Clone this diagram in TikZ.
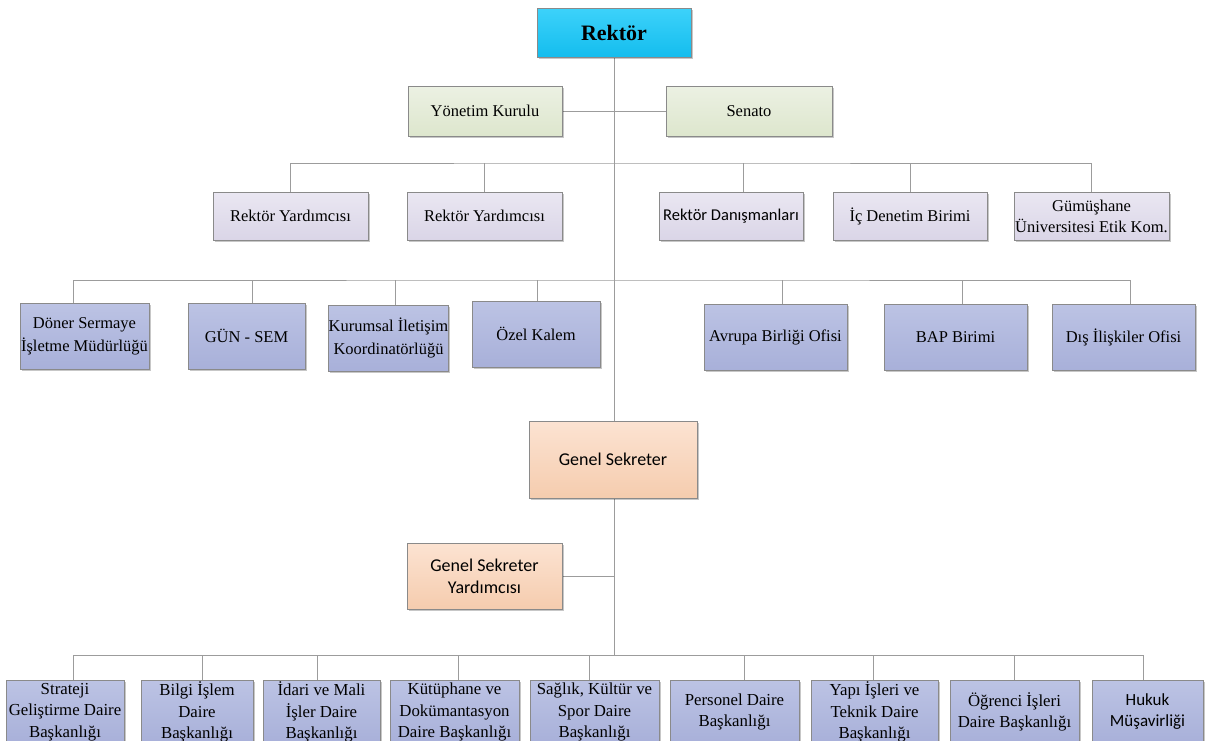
\documentclass[tikz,border=0pt]{standalone}
\usepackage{fontspec}
\setmainfont{Liberation Serif}
\newfontfamily\calfont{Carlito}
\usetikzlibrary{shadows,calc}
\definecolor{bord}{HTML}{8A8A8A}
\definecolor{lnc}{HTML}{9C9C9C}
\definecolor{cyT}{HTML}{3DD2FA}
\definecolor{cyB}{HTML}{14BDEE}
\definecolor{grT}{HTML}{ECF1E3}
\definecolor{grB}{HTML}{DDE6CD}
\definecolor{lvT}{HTML}{EAE7F2}
\definecolor{lvB}{HTML}{DAD5E7}
\definecolor{blT}{HTML}{BCC3E4}
\definecolor{blB}{HTML}{A8B0D9}
\definecolor{pcT}{HTML}{FCE3D2}
\definecolor{pcB}{HTML}{F5CCAE}
\pgfdeclarelayer{bg}
\pgfdeclarelayer{paper}
\pgfsetlayers{paper,bg,main}
\tikzset{
  bx/.style={draw=bord, line width=0.7pt, align=center, inner sep=0pt, text=black,
    drop shadow={shadow xshift=1.6pt, shadow yshift=-1.6pt, opacity=0.22, fill=black}},
  ln/.style={draw=lnc, line width=0.8pt},
  cyanbox/.style={bx, top color=cyT, bottom color=cyB},
  greenbox/.style={bx, top color=grT, bottom color=grB, font=\fontsize{16.5}{22}\selectfont},
  lavbox/.style={bx, top color=lvT, bottom color=lvB, minimum height=48pt, font=\fontsize{16.5}{21}\selectfont},
  bluebox/.style={bx, top color=blT, bottom color=blB, minimum height=66pt, font=\fontsize{16.5}{23}\selectfont},
  botbox/.style={bx, top color=blT, bottom color=blB, minimum height=64pt, font=\fontsize{16.8}{21.5}\selectfont},
  peachbox/.style={bx, top color=pcT, bottom color=pcB, font=\calfont\fontsize{18}{22}\selectfont},
}
\begin{document}
\begin{tikzpicture}[x=1pt,y=-1pt]
\clip (0,0) rectangle (1206,740);
\begin{pgfonlayer}{paper}
\fill[white] (0,0) rectangle (1206,740);
\end{pgfonlayer}

% top
\node[cyanbox, minimum width=154pt, minimum height=49pt] (rek) at (614,32.5)
  {\fontsize{22}{26}\selectfont\bfseries Rektör};
\node[greenbox, minimum width=154pt, minimum height=50pt] (yk) at (485,111) {Yönetim Kurulu};
\node[greenbox, minimum width=166pt, minimum height=50pt] (sen) at (749,111) {Senato};

% row 2
\node[lavbox, minimum width=155pt] (ry1) at (290.5,216) {Rektör Yardımcısı};
\node[lavbox, minimum width=155pt] (ry2) at (484.5,216) {Rektör Yardımcısı};
\node[lavbox, minimum width=144pt, font=\calfont\fontsize{16.5}{21}\selectfont] (rd) at (731,216) {Rektör Danışmanları};
\node[lavbox, minimum width=154pt] (icd) at (910,216) {İç Denetim Birimi};
\node[lavbox, minimum width=155pt] (gum) at (1091.5,216) {Gümüşhane\\Üniversitesi Etik Kom.};

% row 3
\node[bluebox, minimum width=129pt] (dsm) at (84.5,336) {Döner Sermaye\\İşletme Müdürlüğü};
\node[bluebox, minimum width=117pt] (gun) at (246.5,336) {GÜN - SEM};
\node[bluebox, minimum width=117pt] (kur) at (388.5,338) {Kurumsal İletişim\\Koordinatörlüğü};
\node[bluebox, minimum width=128pt] (ozk) at (536,334) {Özel Kalem};
\node[bluebox, minimum width=143pt] (avb) at (775.5,337) {Avrupa Birliği Ofisi};
\node[bluebox, minimum width=143pt] (bap) at (955.5,337) {BAP Birimi};
\node[bluebox, minimum width=143pt] (dis) at (1123.5,337) {Dış İlişkiler Ofisi};

% genel sekreter
\node[peachbox, minimum width=168pt, minimum height=77pt] (gs) at (613,459.5) {Genel Sekreter};
\node[peachbox, minimum width=155pt, minimum height=66pt] (gsy) at (484.5,576) {Genel Sekreter\\Yardımcısı};

% bottom row
\node[botbox, minimum width=118pt] (b1) at (65,712) {Strateji\\Geliştirme Daire\\Başkanlığı};
\node[botbox, minimum width=112pt] (b2) at (197,712) {Bilgi İşlem\\Daire\\Başkanlığı};
\node[botbox, minimum width=117pt] (b3) at (321.5,712) {İdari ve Mali\\İşler Daire\\Başkanlığı};
\node[botbox, minimum width=129pt] (b4) at (454.5,712) {Kütüphane ve\\Dokümantasyon\\Daire Başkanlığı};
\node[botbox, minimum width=129pt] (b5) at (594.5,712) {Sağlık, Kültür ve\\Spor Daire\\Başkanlığı};
\node[botbox, minimum width=129pt] (b6) at (734.5,712) {Personel Daire\\Başkanlığı};
\node[botbox, minimum width=127pt] (b7) at (874.5,712) {Yapı İşleri ve\\Teknik Daire\\Başkanlığı};
\node[botbox, minimum width=129pt] (b8) at (1014.5,712) {Öğrenci İşleri\\Daire Başkanlığı};
\node[botbox, minimum width=111pt, font=\calfont\fontsize{17}{21}\selectfont] (b9) at (1147.5,712) {Hukuk\\Müşavirliği};
% lower parts of the bottom boxes run off the page
\begin{pgfonlayer}{bg}
\foreach \b in {b1,b2,b3,b4,b5,b6,b7,b8,b9}{
  \fill[black, opacity=0.22] ([xshift=1.6pt,yshift=-1.6pt]\b.south west) rectangle ([xshift=1.6pt]\b.east |- 0,760);
  \path[bottom color=blB, top color=blB, draw=bord, line width=0.7pt] (\b.south west) rectangle (\b.east |- 0,760);
}
\end{pgfonlayer}

% connectors
\coordinate (bus2) at (614,163);
\coordinate (bus3) at (614,280);
\coordinate (bus4) at (614,655);
\begin{pgfonlayer}{bg}
\draw[ln] (rek.south) -- (bus4);
\draw[ln] (yk.east) -- (sen.west);
% row 2
\draw[ln] (ry1.north) |- (bus2) -| (gum.north);
\draw[ln] (ry2.north) -- (ry2.north |- bus2);
\draw[ln] ([xshift=12pt]rd.north) -- ([xshift=12pt]rd.north |- bus2);
\draw[ln] (icd.north) -- (icd.north |- bus2);
% row 3
\draw[ln] ([xshift=-11.5pt]dsm.north) |- (bus3) -| ([xshift=6.5pt]dis.north);
\draw[ln] ([xshift=5.5pt]gun.north) -- ([xshift=5.5pt]gun.north |- bus3);
\draw[ln] ([xshift=6.5pt]kur.north) -- ([xshift=6.5pt]kur.north |- bus3);
\draw[ln] ([xshift=1pt]ozk.north) -- ([xshift=1pt]ozk.north |- bus3);
\draw[ln] ([xshift=6.5pt]avb.north) -- ([xshift=6.5pt]avb.north |- bus3);
\draw[ln] ([xshift=6.5pt]bap.north) -- ([xshift=6.5pt]bap.north |- bus3);
% genel sekreter yardimcisi
\draw[ln] (gsy.east) -- (gsy.east -| bus4);
% bottom row
\draw[ln] ([xshift=8pt]b1.north) |- (bus4) -| ([xshift=-4.5pt]b9.north);
\draw[ln] ([xshift=5pt]b2.north) -- ([xshift=5pt]b2.north |- bus4);
\draw[ln] ([xshift=-4.5pt]b3.north) -- ([xshift=-4.5pt]b3.north |- bus4);
\draw[ln] ([xshift=3.5pt]b4.north) -- ([xshift=3.5pt]b4.north |- bus4);
\draw[ln] ([xshift=-5.5pt]b5.north) -- ([xshift=-5.5pt]b5.north |- bus4);
\draw[ln] ([xshift=9.5pt]b6.north) -- ([xshift=9.5pt]b6.north |- bus4);
\draw[ln] ([xshift=-1.5pt]b7.north) -- ([xshift=-1.5pt]b7.north |- bus4);
\draw[ln] (b8.north) -- (b8.north |- bus4);
\end{pgfonlayer}
\end{tikzpicture}
\end{document}
